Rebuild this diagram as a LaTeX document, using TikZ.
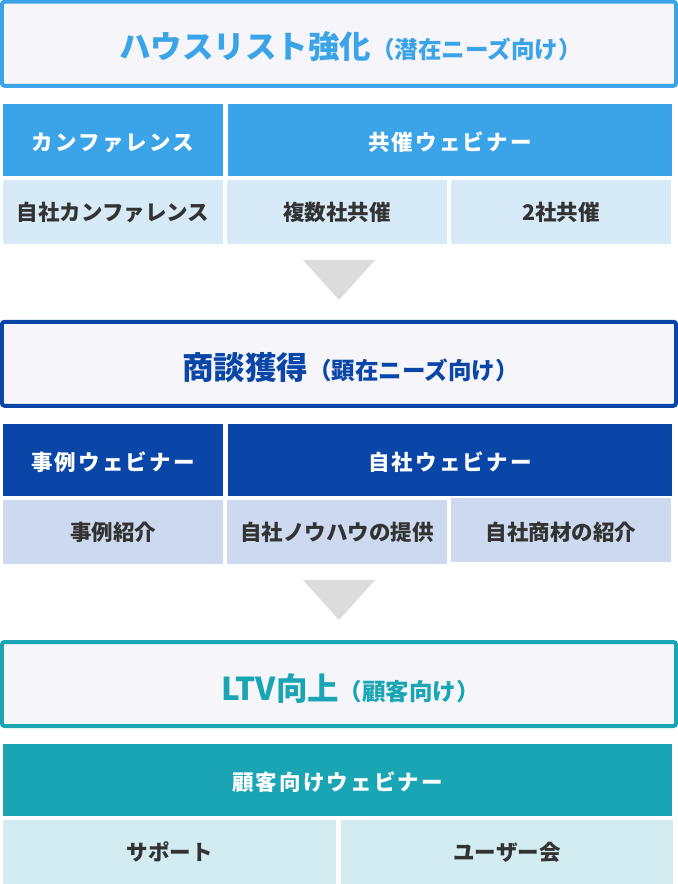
\documentclass[tikz,border=0pt]{standalone}
\usepackage{fontspec}
\setmainfont{Noto Sans CJK JP}
\newfontfamily\jpls{Noto Sans CJK JP}[LetterSpace=10]
\definecolor{cA}{HTML}{3BA3E8}
\definecolor{sA}{HTML}{D6EAF8}
\definecolor{cB}{HTML}{0A45A8}
\definecolor{sB}{HTML}{CCD9EE}
\definecolor{cC}{HTML}{1AA5B5}
\definecolor{sC}{HTML}{D3ECF1}
\definecolor{bgbox}{HTML}{F5F5FA}
\definecolor{txt}{HTML}{333333}
\definecolor{arw}{HTML}{DCDCDC}
\begin{document}
\begin{tikzpicture}[x=1bp,y=-1bp,
  base/.style={rectangle,inner sep=0pt,outer sep=0pt,anchor=center,text depth=0pt,align=center},
  titlebox/.style={base,fill=bgbox,line width=4bp,rounded corners=2.5bp,minimum width=674bp,minimum height=84bp,font=\bfseries},
  headcell/.style={base,fill=#1,text=white,minimum height=72bp,text height=21bp,font=\jpls\bfseries\fontsize{21.5bp}{22bp}\selectfont},
  subcell/.style={base,fill=#1,text=txt,minimum height=64bp,text height=17bp,font=\bfseries\fontsize{21.5bp}{22bp}\selectfont},
  arrowtri/.style={fill=arw}
]
\useasboundingbox (0,0) rectangle (678,884);
\newcommand{\ttl}[2]{\hspace*{23bp}{\fontsize{31.5bp}{32bp}\selectfont #1}{\fontsize{23.5bp}{24bp}\selectfont #2}}
% ---- section 1
\node[titlebox,draw=cA,text=cA,text height=29.4bp] (t1) at (339,43.75) {\ttl{ハウスリスト強化}{（潜在ニーズ向け）}};
\node[headcell=cA,minimum width=220bp] (h1a) at (113,140) {カンファレンス};
\node[headcell=cA,minimum width=444bp] (h1b) at (450,140) {共催ウェビナー};
\node[subcell=sA,minimum width=220bp] (s1a) at (113,212) {自社カンファレンス};
\node[subcell=sA,minimum width=220bp] (s1b) at (337,212) {複数社共催};
\node[subcell=sA,minimum width=220bp] (s1c) at (561,212) {2社共催};
\fill[arrowtri] (303,260) -- (375,260) -- (339,300) -- cycle;
% ---- section 2
\node[titlebox,draw=cB,text=cB,text height=32bp] (t2) at (339,363.75) {\ttl{商談獲得}{（顕在ニーズ向け）}};
\node[headcell=cB,minimum width=220bp] (h2a) at (113,460) {事例ウェビナー};
\node[headcell=cB,minimum width=444bp] (h2b) at (450,460) {自社ウェビナー};
\node[subcell=sB,minimum width=220bp] (s2a) at (113,532) {事例紹介};
\node[subcell=sB,minimum width=220bp] (s2b) at (337,532) {自社ノウハウの提供};
\node[subcell=sB,minimum width=220bp,text height=21bp] (s2c) at (561,530) {自社商材の紹介};
\fill[arrowtri] (303,580) -- (375,580) -- (339,620) -- cycle;
% ---- section 3
\node[titlebox,draw=cC,text=cC,text height=32bp] (t3) at (339,684) {\ttl{LTV向上}{（顧客向け）}};
\node[headcell=cC,minimum width=669bp] (h3) at (337.5,780) {顧客向けウェビナー};
\node[subcell=sC,minimum width=333bp] (s3a) at (169.5,852) {サポート};
\node[subcell=sC,minimum width=332bp] (s3b) at (507,852) {ユーザー会};
\end{tikzpicture}
\end{document}
